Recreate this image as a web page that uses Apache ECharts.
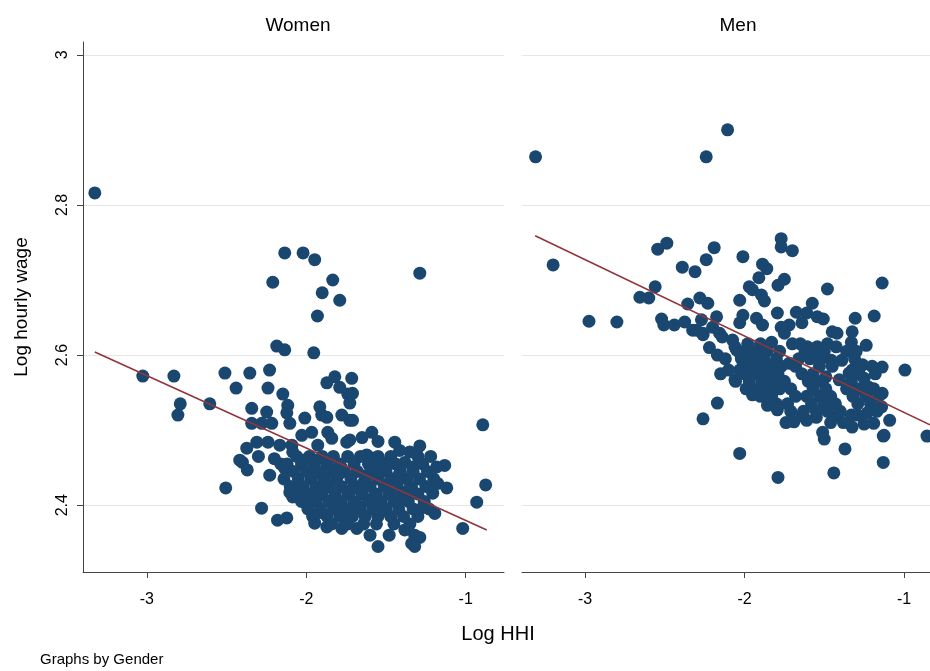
<!DOCTYPE html>
<html>
<head>
<meta charset="utf-8">
<script src="https://cdn.jsdelivr.net/npm/echarts@6/dist/echarts.min.js"></script>
<style>html,body{margin:0;padding:0;background:#fff;}#chart{width:930px;height:671px;}</style>
</head>
<body>
<div id="chart"></div>
<script>
const panelTitles = ['Women', 'Men'];
const xTicks = [-3, -2, -1];
const yTicks = [2.4, 2.6, 2.8, 3];
const womenXRange = [-3.40, -0.76];
const menXRange = [-3.395, -0.837];
const yRange = [2.311, 3.017];

const womenData = [
[-3.326,2.816],[-3.025,2.572],[-2.83,2.572],[-2.79,2.535],[-2.805,2.52],[-2.605,2.535],[-2.51,2.576],[-2.505,2.423],[-2.44,2.556],[-2.354,2.576],
[-2.40,2.457],[-2.37,2.447],[-2.28,2.396],[-2.24,2.556],[-2.21,2.697],[-2.135,2.736],[-2.185,2.612],[-2.135,2.607],[-2.02,2.736],[-1.947,2.727],
[-1.93,2.652],[-1.90,2.683],[-1.834,2.70],[-1.79,2.673],[-1.953,2.603],[-1.288,2.709],[-0.893,2.507],[-0.875,2.427],[-0.931,2.404],[-1.019,2.369],
[-2.18,2.38],[-2.122,2.383],[-2.23,2.58],[-2.342,2.529],[-2.248,2.524],[-2.147,2.548],[-2.116,2.533],[-2.122,2.523],[-2.103,2.509],[-2.342,2.509],
[-2.279,2.509],[-2.216,2.509],[-2.009,2.516],[-1.915,2.531],[-1.903,2.52],[-1.871,2.517],[-1.777,2.52],[-1.727,2.513],[-1.871,2.563],[-1.821,2.571],
[-1.715,2.569],[-1.79,2.557],[-1.74,2.548],[-1.727,2.536],[-2.028,2.493],[-1.966,2.497],[-1.865,2.497],[-1.84,2.489],[-1.746,2.484],[-2.31,2.484],
[-2.24,2.484],[-2.166,2.48],[-2.09,2.48],[-1.928,2.48],[-2.085,2.471],[-2.373,2.476],[-2.417,2.46],[-2.229,2.44],[-2.135,2.449],[-1.947,2.376],
[-1.871,2.371],[-1.777,2.369],[-1.683,2.369],[-2.103,2.417],[-2.085,2.411],[-2.009,2.404],[-1.71,2.549],[-1.71,2.513],[-1.589,2.497],[-1.727,2.487],
[-1.445,2.484],[-1.414,2.473],[-1.351,2.471],[-1.288,2.479],[-1.621,2.467],[-1.589,2.463],[-1.495,2.456],[-1.382,2.457],[-1.332,2.451],[-1.182,2.451],
[-1.132,2.453],[-1.176,2.429],[-1.119,2.423],[-1.207,2.416],[-1.339,2.349],[-1.288,2.357],[-1.382,2.367],[-1.194,2.389],[-1.27,2.397],
[-2.30,2.465],[-2.20,2.462],[-2.16,2.455],[-1.65,2.49],[-1.55,2.485],
[-2.06,2.465],[-1.98,2.465],[-1.90,2.465],[-1.83,2.465],[-1.74,2.465],[-1.66,2.465],[-1.55,2.465],[-1.47,2.465],[-1.30,2.465],[-1.22,2.465],
[-2.12,2.455],[-2.03,2.455],[-1.95,2.455],[-1.87,2.455],[-1.79,2.455],[-1.70,2.455],[-1.61,2.455],[-1.52,2.455],[-1.44,2.455],[-1.27,2.455],
[-2.08,2.445],[-2.00,2.445],[-1.92,2.445],[-1.85,2.445],[-1.76,2.445],[-1.68,2.445],[-1.58,2.445],[-1.50,2.445],[-1.41,2.445],[-1.33,2.445],[-1.24,2.445],
[-2.14,2.435],[-2.05,2.435],[-1.97,2.435],[-1.89,2.435],[-1.81,2.435],[-1.72,2.435],[-1.63,2.435],[-1.55,2.435],[-1.46,2.435],[-1.37,2.435],[-1.29,2.435],[-1.20,2.435],
[-2.10,2.425],[-2.02,2.425],[-1.94,2.425],[-1.86,2.425],[-1.78,2.425],[-1.69,2.425],[-1.60,2.425],[-1.51,2.425],[-1.43,2.425],[-1.34,2.425],[-1.25,2.425],
[-2.06,2.415],[-1.98,2.415],[-1.90,2.415],[-1.82,2.415],[-1.74,2.415],[-1.65,2.415],[-1.56,2.415],[-1.48,2.415],[-1.39,2.415],[-1.30,2.415],
[-2.03,2.405],[-1.94,2.405],[-1.86,2.405],[-1.78,2.405],[-1.70,2.405],[-1.61,2.405],[-1.53,2.405],[-1.45,2.405],[-1.36,2.405],[-1.26,2.405],
[-1.99,2.395],[-1.91,2.395],[-1.83,2.395],[-1.75,2.395],[-1.66,2.395],[-1.58,2.395],[-1.50,2.395],[-1.42,2.395],[-1.33,2.395],[-1.23,2.395],
[-1.96,2.385],[-1.87,2.385],[-1.79,2.385],[-1.71,2.385],[-1.63,2.385],[-1.55,2.385],[-1.47,2.385],[-1.39,2.385],[-1.30,2.385],
[-1.84,2.375],[-1.74,2.375],[-1.64,2.375],[-1.56,2.375],[-1.45,2.375],[-1.35,2.375],
[-1.60,2.36],[-1.48,2.36],[-1.32,2.36],[-1.55,2.345],[-1.32,2.345],
[-2.02,2.46],[-1.94,2.46],[-1.86,2.45],[-1.78,2.45],[-1.96,2.44],[-1.88,2.43],[-1.80,2.44],[-1.72,2.42],[-1.64,2.43],[-1.90,2.42],
[-2.04,2.42],[-1.96,2.41],[-1.82,2.40],[-1.68,2.40],[-1.58,2.41],[-1.92,2.39],[-1.74,2.39],[-1.54,2.39],[-1.46,2.42],[-1.40,2.41],
[-1.62,2.44],[-1.54,2.45],[-1.48,2.43],[-1.42,2.44],[-1.36,2.42]
];

const menData = [
[-3.31,2.864],[-2.24,2.864],[-2.106,2.90],[-3.2,2.72],[-2.975,2.645],[-2.80,2.644],[-2.656,2.677],[-2.60,2.676],[-2.56,2.691],[-2.544,2.741],
[-2.487,2.749],[-2.39,2.717],[-2.31,2.711],[-2.19,2.743],[-2.24,2.727],[-2.356,2.668],[-2.28,2.676],[-2.23,2.669],[-2.175,2.651],[-2.52,2.648],
[-2.506,2.64],[-2.44,2.64],[-2.375,2.644],[-2.325,2.633],[-2.27,2.647],[-2.26,2.629],[-2.2,2.637],[-2.156,2.629],[-2.01,2.731],[-1.77,2.755],
[-1.77,2.744],[-1.70,2.739],[-1.887,2.721],[-1.86,2.715],[-1.91,2.703],[-1.75,2.701],[-1.79,2.693],[-1.97,2.691],[-1.95,2.687],[-1.894,2.68],
[-1.875,2.672],[-2.03,2.673],[-1.48,2.688],[-1.137,2.696],[-1.575,2.669],[-1.794,2.656],[-1.675,2.657],[-1.61,2.656],[-1.544,2.651],[-1.506,2.648],
[-1.306,2.649],[-1.187,2.652],[-2.01,2.653],[-1.925,2.649],[-2.03,2.643],[-1.887,2.64],[-1.64,2.643],[-1.77,2.637],[-1.72,2.64],[-1.45,2.631],
[-1.42,2.629],[-1.325,2.631],[-1.33,2.617],[-1.237,2.613],[-1.606,2.611],[-1.544,2.611],[-1.425,2.611],[-1.575,2.60],[-1.83,2.617],[-1.75,2.629],
[-2.06,2.611],[-2.03,2.603],[-1.456,2.593],[-1.39,2.593],[-1.26,2.587],[-1.137,2.584],[-0.994,2.58],[-1.325,2.58],[-1.72,2.589],[-2.17,2.536],
[-2.26,2.515],[-2.03,2.469],[-1.79,2.437],[-1.44,2.443],[-1.37,2.475],[-1.13,2.492],[-1.13,2.457],[-0.856,2.492],[-1.51,2.497],[-1.50,2.488],
[-1.09,2.513],[-1.14,2.531],[-1.19,2.509],[-1.25,2.508],[-1.325,2.504],[-1.23,2.523],[-1.29,2.52],[-1.33,2.52],[-1.69,2.511],[-1.64,2.519],
[-1.55,2.517],[-1.44,2.517],[-1.794,2.527],[-1.856,2.533],[-1.95,2.547],[-2.056,2.565],[-2.03,2.58],[-1.89,2.556],[-2.3,2.633],[-2.26,2.627],
[-2.14,2.624],[-2.075,2.62],[-2.05,2.607],[-2.06,2.567],[-1.344,2.576],[-1.25,2.569],[-1.49,2.571],[-1.406,2.567],[-1.22,2.557],[-1.137,2.549],
[-1.125,2.493],[-1.61,2.513],[-2.22,2.61],[-2.17,2.60],[-2.12,2.595],[-2.10,2.58],[-2.15,2.575],
[-1.98,2.615],[-1.90,2.615],[-1.70,2.615],[-1.65,2.615],[-1.48,2.615],
[-2.00,2.605],[-1.93,2.605],[-1.86,2.605],[-1.78,2.605],[-1.62,2.605],[-1.50,2.605],[-1.36,2.605],[-1.30,2.605],
[-2.02,2.595],[-1.95,2.595],[-1.88,2.595],[-1.80,2.595],[-1.66,2.595],[-1.59,2.595],[-1.52,2.595],[-1.31,2.595],
[-1.98,2.585],[-1.91,2.585],[-1.84,2.585],[-1.77,2.585],[-1.68,2.585],[-1.53,2.585],[-1.45,2.585],[-1.20,2.585],
[-2.00,2.575],[-1.93,2.575],[-1.86,2.575],[-1.79,2.575],[-1.64,2.575],[-1.57,2.575],[-1.28,2.575],[-1.18,2.575],
[-1.97,2.565],[-1.89,2.565],[-1.82,2.565],[-1.75,2.565],[-1.60,2.565],[-1.54,2.565],[-1.33,2.565],
[-1.99,2.555],[-1.92,2.555],[-1.85,2.555],[-1.78,2.555],[-1.71,2.555],[-1.57,2.555],[-1.49,2.555],[-1.36,2.555],[-1.28,2.555],[-1.19,2.555],
[-1.90,2.545],[-1.83,2.545],[-1.68,2.545],[-1.61,2.545],[-1.53,2.545],[-1.46,2.545],[-1.32,2.545],[-1.24,2.545],[-1.16,2.545],
[-1.80,2.535],[-1.73,2.535],[-1.58,2.535],[-1.50,2.535],[-1.43,2.535],[-1.29,2.535],[-1.21,2.535],
[-1.71,2.525],[-1.63,2.525],[-1.55,2.525],[-1.48,2.525],[-1.40,2.525],[-1.17,2.525],
[-1.74,2.51],[-1.46,2.51],[-1.38,2.51]
];

const womenFit = [[-3.326, 2.604], [-0.868, 2.367]];
const menFit = [[-3.3125, 2.759], [-0.837, 2.507]];

const FONT = '"Liberation Sans", Arial, sans-serif';
const chart = echarts.init(document.getElementById('chart'), null, {renderer: 'canvas'});

const grids = [
  {left: 83, top: 42, width: 421, height: 530},
  {left: 522, top: 42, right: 0, height: 530}
];
const xRanges = [womenXRange, menXRange];

function xAxis(i) {
  return {
    type: 'value', gridIndex: i, min: xRanges[i][0], max: xRanges[i][1],
    axisLine: {show: true, onZero: false, lineStyle: {color: '#444', width: 1}},
    axisTick: {show: true, length: 6, lineStyle: {color: '#444'}, customValues: xTicks},
    axisLabel: {show: true, customValues: xTicks, color: '#000', fontSize: 16, fontFamily: FONT, margin: 20},
    splitLine: {show: false}
  };
}
function yAxis(i) {
  return {
    type: 'value', gridIndex: i, min: yRange[0], max: yRange[1],
    axisLine: {show: i === 0, onZero: false, lineStyle: {color: '#444', width: 1}},
    axisTick: {show: i === 0, length: 6, lineStyle: {color: '#444'}, customValues: yTicks},
    axisLabel: {show: i === 0, customValues: yTicks, rotate: 90, color: '#000', fontSize: 16, fontFamily: FONT, margin: 12,
      formatter: v => String(v)},
    splitLine: {show: true, lineStyle: {color: '#e6e6e6', width: 1}},
    name: i === 0 ? 'Log hourly wage' : '',
    nameLocation: 'middle', nameGap: 52, nameRotate: 90,
    nameTextStyle: {color: '#000', fontSize: 19, fontFamily: FONT}
  };
}

const option = {
  backgroundColor: '#fff',
  animation: false,
  title: [
    {text: panelTitles[0], left: 293, top: 11, textAlign: 'center', textStyle: {fontSize: 19, fontWeight: 'normal', color: '#000', fontFamily: FONT}},
    {text: panelTitles[1], left: 733, top: 11, textAlign: 'center', textStyle: {fontSize: 19, fontWeight: 'normal', color: '#000', fontFamily: FONT}},
    {text: 'Log HHI', left: 493, top: 619, textAlign: 'center', textStyle: {fontSize: 20, fontWeight: 'normal', color: '#000', fontFamily: FONT}},
    {text: 'Graphs by Gender', left: 35, top: 647, textStyle: {fontSize: 15, fontWeight: 'normal', color: '#000', fontFamily: FONT}}
  ],
  grid: grids,
  xAxis: [xAxis(0), xAxis(1)],
  yAxis: [yAxis(0), yAxis(1)],
  series: [
    {type: 'scatter', xAxisIndex: 0, yAxisIndex: 0, data: womenData, symbolSize: 13, itemStyle: {color: '#1a476f', opacity: 1}, z: 2},
    {type: 'scatter', xAxisIndex: 1, yAxisIndex: 1, data: menData, symbolSize: 13, itemStyle: {color: '#1a476f', opacity: 1}, z: 2},
    {type: 'line', xAxisIndex: 0, yAxisIndex: 0, data: womenFit, symbol: 'none', lineStyle: {color: '#90353b', width: 1.6}, z: 5},
    {type: 'line', xAxisIndex: 1, yAxisIndex: 1, data: menFit, symbol: 'none', lineStyle: {color: '#90353b', width: 1.6}, z: 5}
  ]
};
chart.setOption(option);
</script>
</body>
</html>
